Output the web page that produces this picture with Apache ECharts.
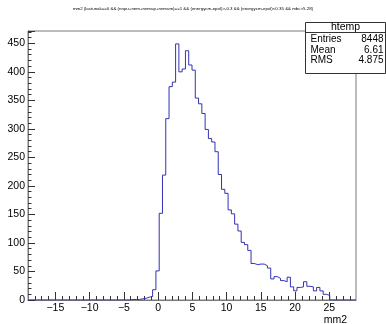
<!DOCTYPE html>
<html>
<head>
<meta charset="utf-8">
<script src="https://cdn.jsdelivr.net/npm/echarts@6/dist/echarts.min.js"></script>
<style>html,body{margin:0;padding:0;background:#fff;}#c{width:386px;height:324px;}</style>
</head>
<body>
<div id="c"></div>
<script>
// Histogram: 100 bins from X_MIN to X_MAX
const X_MIN = -19.0;
const X_MAX = 28.9;
const N_BINS = 100;
const counts = [
  0,0,0,0,0,0,0,0,0,0,
  0,0,0,0,0,0,0,0,0,0,
  0,0,0,0,0,0,0,0,0,0,
  0,1,1,1,2,3,5,6,18,51,
  152,219,318,374,382,449,400,405,437,412,
  403,354,344,327,299,283,277,260,220,194,
  187,158,151,133,121,101,97,87,64,62,
  63,63,60,56,37,41,38,34,32,40,
  23,16,22,23,32,24,23,16,22,16,
  10,8,0,0,0,0,0,0,0,0
];
const xMajorTicks = [-15,-10,-5,0,5,10,15,20,25];
const xMinorTicks = [-18,-17,-16,-14,-13,-12,-11,-9,-8,-7,-6,-4,-3,-2,-1,1,2,3,4,6,7,8,9,11,12,13,14,16,17,18,19,21,22,23,24,26,27,28];
const statNames = ['Entries','Mean','RMS'];
const statValues = ['8448','6.61','4.875'];
const histName = 'htemp';
const titleText = 'mm2 {lastunak==0 && (nnpu+nnm+nnmup+nnmum)==1 && (energycm-epol)>-0.3 && (energycm-epol)<0.35 && mbc>5.28}';
const xTitle = 'mm2';

const binW = (X_MAX - X_MIN) / N_BINS;
const pts = [];
for (let i = 0; i < N_BINS; i++) {
  const l = X_MIN + i * binW, r = l + binW;
  pts.push([l, counts[i]], [r, counts[i]]);
}

const chart = echarts.init(document.getElementById('c'), null, {renderer:'canvas'});
const FONT = 'Liberation Sans';
const frameColor = '#7a7a7a';

const statsX = 305.5, statsY = 22.5, statsW = 80, statsH = 51;
const graphics = [
  {type:'text', left:'center', top:7, style:{text:titleText, font:'4.4px "Liberation Sans"', fill:'#000'}},
  {type:'rect', shape:{x:statsX, y:statsY, width:statsW, height:statsH}, style:{fill:'#fff', stroke:'#333', lineWidth:1}, z:100},
  {type:'line', shape:{x1:statsX, y1:32.5, x2:statsX+statsW, y2:32.5}, style:{stroke:'#333', lineWidth:1}, z:101},
  {type:'text', x:statsX+statsW/2, y:27.5, style:{text:histName, font:'10.5px "Liberation Sans"', fill:'#000', align:'center', verticalAlign:'middle'}, z:101}
];
const rowY = [39.5, 50, 60.5];
statNames.forEach((n, i) => {
  graphics.push({type:'text', x:310.5, y:rowY[i], style:{text:n, font:'10px "Liberation Sans"', fill:'#000', align:'left', verticalAlign:'middle'}, z:101});
  graphics.push({type:'text', x:383.5, y:rowY[i], style:{text:statValues[i], font:'10px "Liberation Sans"', fill:'#000', align:'right', verticalAlign:'middle'}, z:101});
});
graphics.push({type:'text', x:347, y:320, style:{text:xTitle, font:'10.5px "Liberation Sans"', fill:'#000', align:'right', verticalAlign:'middle'}});

chart.setOption({
  animation:false,
  backgroundColor:'#fff',
  grid:{left:28, right:30, top:31, bottom:24, show:true, borderColor:frameColor, borderWidth:1, backgroundColor:'transparent'},
  xAxis:[
    {type:'value', min:X_MIN, max:X_MAX, position:'bottom',
     axisLine:{show:true, onZero:false, lineStyle:{color:frameColor}},
     axisTick:{show:true, inside:true, length:8, customValues:xMajorTicks, lineStyle:{color:'#333'}},
     axisLabel:{show:true, customValues:xMajorTicks, margin:3, fontFamily:FONT, fontSize:10.5, color:'#000',
       formatter:v => (v < 0 ? '\u2212' + (-v) : String(v))},
     splitLine:{show:false}},
    {type:'value', min:X_MIN, max:X_MAX, position:'bottom', gridIndex:0,
     axisLine:{show:false, onZero:false},
     axisTick:{show:true, inside:true, length:4, customValues:xMinorTicks, lineStyle:{color:'#333'}},
     axisLabel:{show:false},
     splitLine:{show:false}}
  ],
  yAxis:{type:'value', min:0, max:471.6, interval:50, position:'left',
     axisLine:{show:true, onZero:false, lineStyle:{color:frameColor}},
     axisTick:{show:true, inside:true, length:7, lineStyle:{color:'#333'}},
     minorTick:{show:true, splitNumber:5, length:3.5, lineStyle:{color:'#333'}},
     axisLabel:{margin:3, fontFamily:FONT, fontSize:10.5, color:'#000', showMaxLabel:false},
     splitLine:{show:false}},
  series:[{
    type:'line', data:pts, xAxisIndex:0, showSymbol:false, symbol:'none',
    lineStyle:{color:'#3232b4', width:1}, clip:true, z:5
  }],
  graphic:graphics
});
</script>
</body>
</html>
